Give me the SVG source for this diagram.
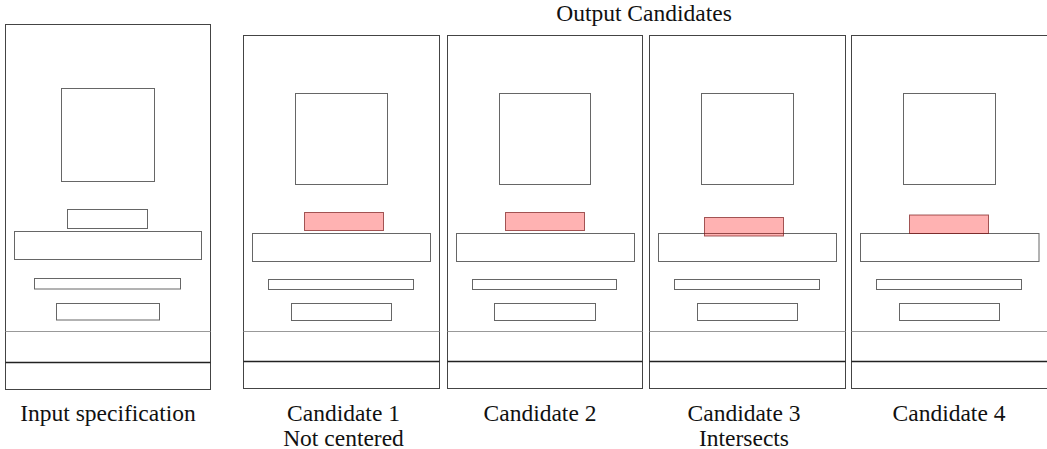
<svg xmlns="http://www.w3.org/2000/svg" width="1047" height="449" viewBox="0 0 1047 449">
<style>
.panel{fill:#fff;stroke:#444;stroke-width:1}
.sep1{stroke:#999;stroke-width:1}
.sep2{stroke:#222;stroke-width:1.3}
.box{fill:none;stroke:#666;stroke-width:1}
.hl{fill:#ff0000;fill-opacity:0.3;stroke:#7a1a1a;stroke-opacity:0.7;stroke-width:1}
.lbl{font-size:23.5px;fill:#111;text-anchor:middle}
</style>
<rect width="1047" height="449" fill="#fff"/>
<text class="lbl" x="644" y="21" style="font-family:'Liberation Serif'">Output Candidates</text>
<g id="input">
<rect class="panel" x="5.5" y="24.5" width="205" height="365"/>
<rect class="box" x="61.5" y="88.5" width="93" height="93"/>
<rect class="box" x="67.5" y="209.5" width="80" height="19"/>
<rect class="box" x="14.5" y="231.5" width="187" height="28"/>
<rect class="box" x="34.5" y="278.5" width="146" height="10.5"/>
<rect class="box" x="56.5" y="303.5" width="103" height="16.5"/>
<line class="sep1" x1="5.5" y1="331.5" x2="210.5" y2="331.5"/>
<line class="sep2" x1="5.5" y1="362.5" x2="210.5" y2="362.5"/>
<text class="lbl" x="108" y="421" style="font-family:'Liberation Serif'">Input specification</text>
</g>
<g id="candidate1">
<rect class="panel" x="243.5" y="35.5" width="196" height="353"/>
<rect class="box" x="295.5" y="93.5" width="92" height="91"/>
<rect class="box" x="252.5" y="233.5" width="178" height="28"/>
<rect class="box" x="268.5" y="279.5" width="145" height="10"/>
<rect class="box" x="291.5" y="303.5" width="100" height="17"/>
<line class="sep1" x1="243.5" y1="331.5" x2="439.5" y2="331.5"/>
<line class="sep2" x1="243.5" y1="361.5" x2="439.5" y2="361.5"/>
<rect class="hl" x="304.5" y="212.5" width="79" height="18"/>
<text class="lbl" x="343.5" y="421" style="font-family:'Liberation Serif'">Candidate 1</text>
<text class="lbl" x="343.5" y="446" style="font-family:'Liberation Serif'">Not centered</text>
</g>
<g id="candidate2">
<rect class="panel" x="447.5" y="35.5" width="195" height="353"/>
<rect class="box" x="499.5" y="93.5" width="91" height="91"/>
<rect class="box" x="456.5" y="233.5" width="178" height="28"/>
<rect class="box" x="472.5" y="279.5" width="144" height="10"/>
<rect class="box" x="494.5" y="303.5" width="101" height="17"/>
<line class="sep1" x1="447.5" y1="331.5" x2="642.5" y2="331.5"/>
<line class="sep2" x1="447.5" y1="361.5" x2="642.5" y2="361.5"/>
<rect class="hl" x="505.5" y="212.5" width="79" height="18"/>
<text class="lbl" x="540" y="421" style="font-family:'Liberation Serif'">Candidate 2</text>
</g>
<g id="candidate3">
<rect class="panel" x="649.5" y="35.5" width="196" height="353"/>
<rect class="box" x="701.5" y="93.5" width="92" height="91"/>
<rect class="box" x="658.5" y="233.5" width="178" height="28"/>
<rect class="box" x="674.5" y="279.5" width="145" height="10"/>
<rect class="box" x="697.5" y="303.5" width="100" height="17"/>
<line class="sep1" x1="649.5" y1="331.5" x2="845.5" y2="331.5"/>
<line class="sep2" x1="649.5" y1="361.5" x2="845.5" y2="361.5"/>
<rect class="hl" x="704.5" y="217.5" width="79" height="18.5"/>
<text class="lbl" x="744" y="421" style="font-family:'Liberation Serif'">Candidate 3</text>
<text class="lbl" x="744" y="446" style="font-family:'Liberation Serif'">Intersects</text>
</g>
<g id="candidate4">
<rect class="panel" x="851.5" y="35.5" width="196" height="353"/>
<rect class="box" x="903.5" y="93.5" width="92" height="91"/>
<rect class="box" x="860.5" y="233.5" width="178.5" height="28"/>
<rect class="box" x="876.5" y="279.5" width="145" height="10"/>
<rect class="box" x="899.5" y="303.5" width="100" height="17"/>
<line class="sep1" x1="851.5" y1="331.5" x2="1047" y2="331.5"/>
<line class="sep2" x1="851.5" y1="361.5" x2="1047" y2="361.5"/>
<rect class="hl" x="909.5" y="215" width="79" height="18.5"/>
<text class="lbl" x="949" y="421" style="font-family:'Liberation Serif'">Candidate 4</text>
</g>
<g id="connectors"/>
</svg>
